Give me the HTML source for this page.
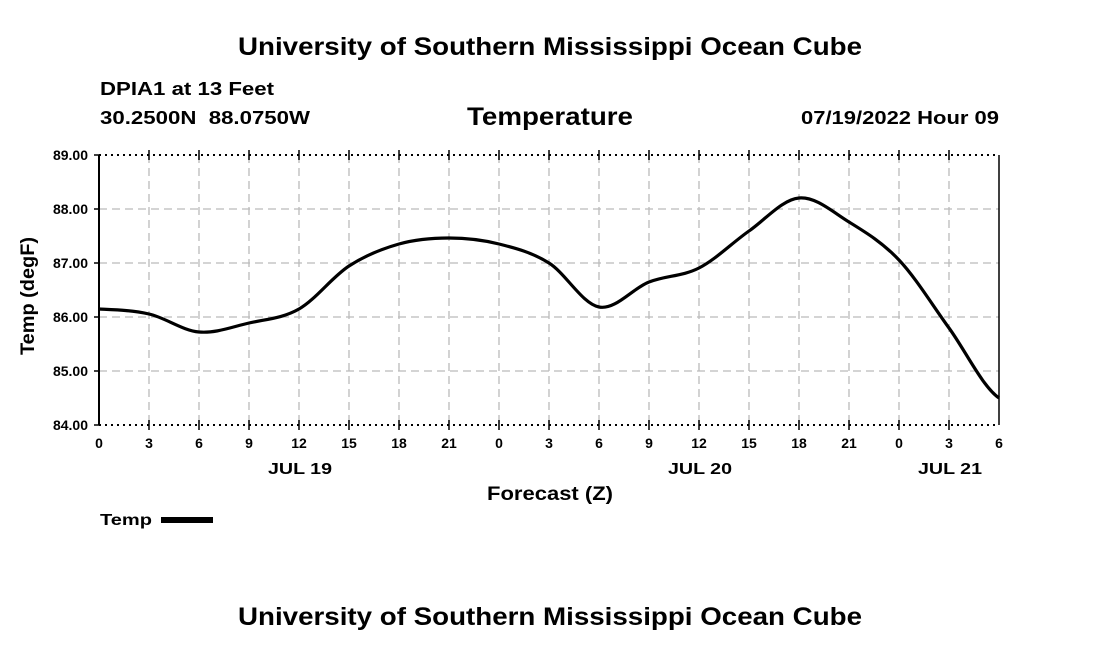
<!DOCTYPE html>
<html><head><style>body{margin:0;background:#fff}svg{display:block}</style></head><body>
<svg width="1100" height="650" xmlns="http://www.w3.org/2000/svg" font-family="Liberation Sans, Arial, sans-serif" font-weight="bold">
<text x="238" y="55" font-size="25" textLength="624" lengthAdjust="spacingAndGlyphs">University of Southern Mississippi Ocean Cube</text>
<text x="100" y="95" font-size="18" textLength="174" lengthAdjust="spacingAndGlyphs">DPIA1 at 13 Feet</text>
<text x="100" y="124" font-size="18" textLength="210" lengthAdjust="spacingAndGlyphs" xml:space="preserve">30.2500N  88.0750W</text>
<text x="467" y="125" font-size="25" textLength="166" lengthAdjust="spacingAndGlyphs">Temperature</text>
<text x="801" y="124" font-size="18" textLength="198" lengthAdjust="spacingAndGlyphs">07/19/2022 Hour 09</text>
<g stroke="#bbb" stroke-width="1.3" stroke-dasharray="8,5">
<line x1="99" y1="209" x2="999" y2="209"/><line x1="99" y1="263" x2="999" y2="263"/><line x1="99" y1="317" x2="999" y2="317"/><line x1="99" y1="371" x2="999" y2="371"/>
<line x1="149" y1="155" x2="149" y2="425"/><line x1="199" y1="155" x2="199" y2="425"/><line x1="249" y1="155" x2="249" y2="425"/><line x1="299" y1="155" x2="299" y2="425"/><line x1="349" y1="155" x2="349" y2="425"/><line x1="399" y1="155" x2="399" y2="425"/><line x1="449" y1="155" x2="449" y2="425"/><line x1="499" y1="155" x2="499" y2="425"/><line x1="549" y1="155" x2="549" y2="425"/><line x1="599" y1="155" x2="599" y2="425"/><line x1="649" y1="155" x2="649" y2="425"/><line x1="699" y1="155" x2="699" y2="425"/><line x1="749" y1="155" x2="749" y2="425"/><line x1="799" y1="155" x2="799" y2="425"/><line x1="849" y1="155" x2="849" y2="425"/><line x1="899" y1="155" x2="899" y2="425"/><line x1="949" y1="155" x2="949" y2="425"/>
</g>
<g stroke="#000" stroke-width="2" stroke-dasharray="2,4">
<line x1="99" y1="155" x2="999" y2="155"/><line x1="99" y1="425" x2="999" y2="425"/>
</g>
<line x1="99" y1="155" x2="99" y2="425" stroke="#000" stroke-width="2"/>
<line x1="999" y1="155" x2="999" y2="425" stroke="#000" stroke-width="1.5"/>
<g stroke="#000" stroke-width="1.5">
<path d="M149 150v10M199 150v10M249 150v10M299 150v10M349 150v10M399 150v10M449 150v10M499 150v10M549 150v10M599 150v10M649 150v10M699 150v10M749 150v10M799 150v10M849 150v10M899 150v10M949 150v10M149 420v10M199 420v10M249 420v10M299 420v10M349 420v10M399 420v10M449 420v10M499 420v10M549 420v10M599 420v10M649 420v10M699 420v10M749 420v10M799 420v10M849 420v10M899 420v10M949 420v10M94 155h5M94 209h5M94 263h5M94 317h5M94 371h5M94 425h5"/>
</g>
<g font-size="14" text-anchor="end">
<text x="88" y="160">89.00</text><text x="88" y="214">88.00</text><text x="88" y="268">87.00</text><text x="88" y="322">86.00</text><text x="88" y="376">85.00</text><text x="88" y="430">84.00</text>
</g>
<g font-size="14" text-anchor="middle">
<text x="99" y="448">0</text><text x="149" y="448">3</text><text x="199" y="448">6</text><text x="249" y="448">9</text><text x="299" y="448">12</text><text x="349" y="448">15</text><text x="399" y="448">18</text><text x="449" y="448">21</text><text x="499" y="448">0</text><text x="549" y="448">3</text><text x="599" y="448">6</text><text x="649" y="448">9</text><text x="699" y="448">12</text><text x="749" y="448">15</text><text x="799" y="448">18</text><text x="849" y="448">21</text><text x="899" y="448">0</text><text x="949" y="448">3</text><text x="999" y="448">6</text>
</g>
<g font-size="16">
<text x="268" y="474" textLength="64" lengthAdjust="spacingAndGlyphs">JUL 19</text><text x="668" y="474" textLength="64" lengthAdjust="spacingAndGlyphs">JUL 20</text><text x="918" y="474" textLength="64" lengthAdjust="spacingAndGlyphs">JUL 21</text>
</g>
<text x="487" y="500" font-size="19" textLength="126" lengthAdjust="spacingAndGlyphs">Forecast (Z)</text>
<text transform="translate(34,296) rotate(-90)" text-anchor="middle" font-size="19" textLength="118" lengthAdjust="spacingAndGlyphs">Temp (degF)</text>
<path fill="none" stroke="#000" stroke-width="3.2" stroke-linejoin="round" d="M99 309 C115.7 309.8 132.3 310.2 149 314 C165.7 317.8 182.3 330.5 199 332 C215.7 333.5 232.3 326.8 249 323 C265.7 319.2 282.3 318.5 299 309 C315.7 299.5 332.3 276.8 349 266 C365.7 255.2 382.3 248.7 399 244 C415.7 239.3 432.3 238 449 238 C465.7 238 482.3 239.8 499 244 C515.7 248.2 532.3 252.5 549 263 C565.7 273.5 582.3 303.8 599 307 C615.7 310.2 632.3 288.5 649 282 C665.7 275.5 682.3 276.5 699 268 C715.7 259.5 732.3 242.7 749 231 C765.7 219.3 782.3 199.5 799 198 C815.7 196.5 832.3 211.7 849 222 C865.7 232.3 882.3 242.3 899 260 C915.7 277.7 932.3 305 949 328 C965.7 351 982.3 386.3 999 398"/>
<text x="100" y="525" font-size="16" textLength="52" lengthAdjust="spacingAndGlyphs">Temp</text>
<rect x="161" y="517" width="52" height="6" fill="#000"/>
<text x="238" y="625" font-size="25" textLength="624" lengthAdjust="spacingAndGlyphs">University of Southern Mississippi Ocean Cube</text>
</svg>
</body></html>
